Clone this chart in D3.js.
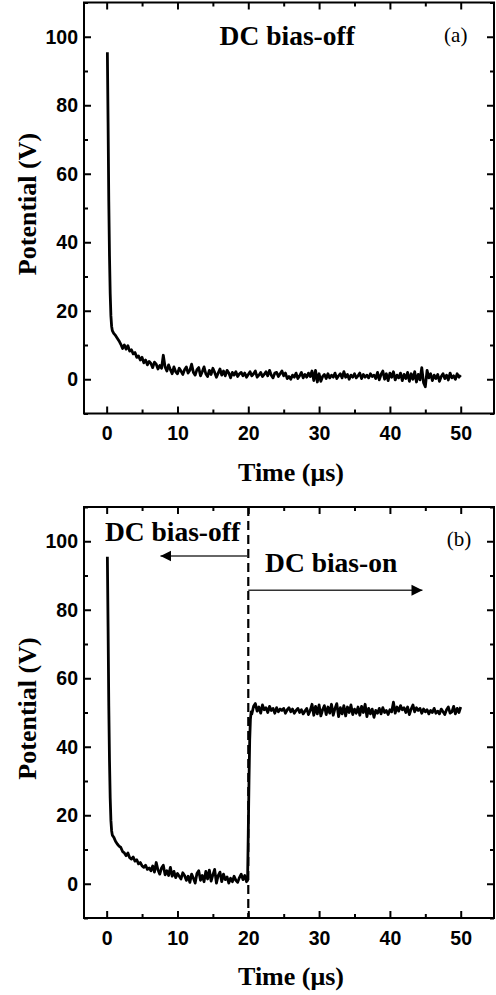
<!DOCTYPE html>
<html>
<head>
<meta charset="utf-8">
<script src="https://cdn.jsdelivr.net/npm/d3@7"></script>
<style>
  body { margin: 0; background: #fff; }
</style>
</head>
<body>
<div id="chart"></div>
<script>
// trace (a): bias off for the whole window
let timeA = [0.1, 0.2, 0.3, 0.4, 0.5, 0.6, 0.7, 0.8,
  1, 1.25, 1.5, 1.75, 2, 2.25, 2.5, 2.75, 3, 3.25, 3.5, 3.75, 4, 4.25, 4.5, 4.75,
  5, 5.25, 5.5, 5.75, 6, 6.25, 6.5, 6.75, 7, 7.25, 7.5, 7.75, 8, 8.25, 8.5, 8.75, 9, 9.25, 9.5, 9.75,
  10, 10.25, 10.5, 10.75, 11, 11.25, 11.5, 11.75, 12, 12.25, 12.5, 12.75, 13, 13.25, 13.5, 13.75, 14, 14.25, 14.5, 14.75,
  15, 15.25, 15.5, 15.75, 16, 16.25, 16.5, 16.75, 17, 17.25, 17.5, 17.75, 18, 18.25, 18.5, 18.75, 19, 19.25, 19.5, 19.75,
  20, 20.25, 20.5, 20.75, 21, 21.25, 21.5, 21.75, 22, 22.25, 22.5, 22.75, 23, 23.25, 23.5, 23.75, 24, 24.25, 24.5, 24.75,
  25, 25.25, 25.5, 25.75, 26, 26.25, 26.5, 26.75, 27, 27.25, 27.5, 27.75, 28, 28.25, 28.5, 28.75, 29, 29.25, 29.5, 29.75,
  30, 30.25, 30.5, 30.75, 31, 31.25, 31.5, 31.75, 32, 32.25, 32.5, 32.75, 33, 33.25, 33.5, 33.75, 34, 34.25, 34.5, 34.75,
  35, 35.25, 35.5, 35.75, 36, 36.25, 36.5, 36.75, 37, 37.25, 37.5, 37.75, 38, 38.25, 38.5, 38.75, 39, 39.25, 39.5, 39.75,
  40, 40.25, 40.5, 40.75, 41, 41.25, 41.5, 41.75, 42, 42.25, 42.5, 42.75, 43, 43.25, 43.5, 43.75, 44, 44.25, 44.5, 44.75,
  45, 45.25, 45.5, 45.75, 46, 46.25, 46.5, 46.75, 47, 47.25, 47.5, 47.75, 48, 48.25, 48.5, 48.75, 49, 49.25, 49.5, 49.75, 50];
let potentialA = [95.5, 75, 52, 36, 25, 18.5, 15.5, 14.2,
  13.4, 12.8, 12.0, 11.2, 10.2, 9.0, 10.0, 8.8, 9.8, 8.2, 8.6, 7.4, 7.8, 6.4, 6.8, 5.6,
  6.4, 4.8, 5.6, 4.2, 5.2, 4.6, 3.4, 5.0, 4.4, 3.0, 4.0, 3.2, 7.0, 3.6, 2.4, 4.2, 2.8, 1.6, 3.6, 2.2,
  1.6, 3.2, 2.4, 1.4, 2.8, 3.6, 1.8, 2.6, 4.4, 2.0, 1.2, 2.8, 3.4, 1.0, 2.2, 3.6, 1.6, 0.8, 2.6, 1.4,
  3.2, 2.0, 0.6, 1.8, 3.0, 1.2, 2.4, 1.0, 2.6, 1.8, 0.4, 2.0, 1.2, 2.2, 0.8, 1.6, 2.0, 1.0, 1.8, 0.6,
  1.4, 2.2, 1.0, 1.6, 2.4, 0.6, 1.2, 2.0, 0.8, 1.4, 2.2, 1.0, 2.6, 1.2, 0.4, 1.8, 2.0, 0.8, 1.6, 2.4,
  1.0, 1.8, 0.2, 0.8, 0.0, 1.2, 0.6, 1.8, 0.2, 1.0, 2.0, 0.4, 1.4, 0.6, 1.8, 0.8, 2.4, -0.4, 2.6, -0.8,
  1.6, -0.6, 0.8, 1.4, 0.2, 1.6, 0.4, 1.2, 0.6, 1.8, 0.2, 1.0, 1.6, 0.4, 2.2, 0.6, 1.4, 0.0, 1.2, 0.6,
  1.6, 0.4, 1.0, 1.8, 0.2, 1.4, 0.6, 1.2, 0.4, 1.6, 0.8, 1.2, 0.2, 2.0, -0.2, 1.4, 2.4, 0.0, 1.6, -0.4,
  1.8, 0.6, 2.2, -0.2, 1.2, 0.4, 1.8, -0.4, 1.4, 0.2, 2.0, -0.6, 1.6, 0.0, 2.2, -0.8, 1.4, -0.2, 3.4, -1.0,
  -2.2, 2.6, 0.4, 1.6, -0.4, 1.2, 0.2, 1.4, -0.6, 0.8, 1.6, 0.2, 1.2, -0.2, 1.8, 0.4, 1.0, 0.0, 1.6, 0.6, 1.2];

// trace (b): bias switched on at 20 us
let timeB = [0.1, 0.2, 0.3, 0.4, 0.5, 0.6, 0.7, 0.8,
  1, 1.25, 1.5, 1.75, 2, 2.25, 2.5, 2.75, 3, 3.25, 3.5, 3.75, 4, 4.25, 4.5, 4.75,
  5, 5.25, 5.5, 5.75, 6, 6.25, 6.5, 6.75, 7, 7.25, 7.5, 7.75, 8, 8.25, 8.5, 8.75, 9, 9.25, 9.5, 9.75,
  10, 10.25, 10.5, 10.75, 11, 11.25, 11.5, 11.75, 12, 12.25, 12.5, 12.75, 13, 13.25, 13.5, 13.75, 14, 14.25, 14.5, 14.75,
  15, 15.25, 15.5, 15.75, 16, 16.25, 16.5, 16.75, 17, 17.25, 17.5, 17.75, 18, 18.25, 18.5, 18.75, 19, 19.25, 19.5, 19.75, 19.9,
  20, 20.1, 20.2, 20.3, 20.4, 20.5, 20.75, 21, 21.25, 21.5, 21.75, 22, 22.25, 22.5, 22.75, 23, 23.25, 23.5, 23.75, 24, 24.25, 24.5, 24.75,
  25, 25.25, 25.5, 25.75, 26, 26.25, 26.5, 26.75, 27, 27.25, 27.5, 27.75, 28, 28.25, 28.5, 28.75, 29, 29.25, 29.5, 29.75,
  30, 30.25, 30.5, 30.75, 31, 31.25, 31.5, 31.75, 32, 32.25, 32.5, 32.75, 33, 33.25, 33.5, 33.75, 34, 34.25, 34.5, 34.75,
  35, 35.25, 35.5, 35.75, 36, 36.25, 36.5, 36.75, 37, 37.25, 37.5, 37.75, 38, 38.25, 38.5, 38.75, 39, 39.25, 39.5, 39.75,
  40, 40.25, 40.5, 40.75, 41, 41.25, 41.5, 41.75, 42, 42.25, 42.5, 42.75, 43, 43.25, 43.5, 43.75, 44, 44.25, 44.5, 44.75,
  45, 45.25, 45.5, 45.75, 46, 46.25, 46.5, 46.75, 47, 47.25, 47.5, 47.75, 48, 48.25, 48.5, 48.75, 49, 49.25, 49.5, 49.75, 50];
let potentialB = [95.5, 75, 52, 36, 25, 18.5, 15.5, 14.2,
  13.6, 12.4, 11.6, 11.0, 10.6, 9.4, 9.0, 8.2, 9.0, 7.6, 7.2, 7.8, 6.6, 7.0, 5.8, 6.2,
  5.2, 4.8, 5.4, 4.2, 4.6, 3.8, 5.2, 3.4, 6.2, 4.0, 2.8, 4.6, 5.4, 2.6, 3.8, 2.4, 4.8, 2.2, 3.6, 1.8,
  3.0, 2.2, 1.4, 3.2, 2.4, 1.0, 2.2, 0.4, 2.8, 1.6, 0.2, 3.0, 3.8, 1.0, 2.4, 0.6, 3.6, 1.4, 4.0, 0.8,
  2.6, 4.2, 0.2, 2.4, 3.4, 0.6, 2.8, 1.2, 2.0, 0.2, 1.6, 0.6, 2.2, 1.0, 0.4, 1.8, 2.8, 1.2, 2.4, 0.6, 1.0,
  15, 30, 42, 48, 50.2, 49.6, 51.8, 52.6, 50.4, 51.6, 49.8, 52.2, 50.8, 51.4, 50.0, 51.8, 50.6, 51.2, 49.8, 51.4, 50.2, 51.0, 50.6,
  51.2, 49.8, 50.8, 51.4, 50.2, 51.0, 49.8, 50.6, 51.2, 50.0, 50.8, 49.6, 50.4, 51.2, 49.4, 50.6, 52.4, 49.2, 51.8, 49.6,
  52.2, 49.0, 50.8, 52.0, 49.4, 51.6, 49.8, 52.4, 49.2, 51.2, 52.6, 48.8, 51.4, 49.6, 52.0, 49.0, 51.6, 50.0, 52.2, 49.4,
  51.0, 49.8, 51.6, 49.2, 51.8, 50.0, 52.4, 48.8, 51.2, 49.6, 51.0, 48.6, 50.6, 49.8, 51.2, 49.6, 51.4, 50.0, 50.6, 49.4,
  50.8, 50.2, 53.0, 49.8, 51.6, 50.4, 52.0, 50.8, 51.4, 50.0, 51.6, 49.4, 51.0, 52.2, 50.2, 51.4, 50.6, 51.2, 49.8, 51.0,
  50.2, 50.8, 49.6, 50.6, 50.0, 51.2, 49.8, 50.4, 49.6, 51.0, 50.2, 49.4, 50.8, 51.6, 49.8, 50.2, 51.8, 49.6, 51.2, 50.0, 51.6];

let xTicks = [0, 10, 20, 30, 40, 50];
let xMinor = [5, 15, 25, 35, 45];
let yTicks = [0, 20, 40, 60, 80, 100];
let yMinor = [-10, 10, 30, 50, 70, 90, 110];

let width = 496,
    height = 995,
    plotW = 410,
    plotH = 411,
    left = 84;

let svg = d3.select("#chart")
  .append("svg")
    .attr("width", width)
    .attr("height", height);

let x = d3.scaleLinear().domain([-3.2, 54.7]).range([0, plotW]);
let y = d3.scaleLinear().domain([-10, 110]).range([plotH, 0]);

let line = d3.line()
  .x(d => x(d[0]))
  .y(d => y(d[1]));

function panel(top, times, values) {
  let g = svg.append("g").attr("transform", `translate(${left},${top})`);

  // minor ticks first, then the major ones with labels
  g.append("g").attr("transform", `translate(0,${plotH})`)
    .call(d3.axisBottom(x).tickValues(xMinor).tickSize(-4).tickFormat(""));
  g.append("g")
    .call(d3.axisTop(x).tickValues(xMinor).tickSize(-4).tickFormat(""));
  g.append("g")
    .call(d3.axisLeft(y).tickValues(yMinor).tickSize(-4).tickFormat(""));
  g.append("g").attr("transform", `translate(${plotW},0)`)
    .call(d3.axisRight(y).tickValues(yMinor).tickSize(-4).tickFormat(""));

  g.append("g").attr("class", "lab").attr("transform", `translate(0,${plotH})`)
    .call(d3.axisBottom(x).tickValues(xTicks).tickSize(-7).tickPadding(13));
  g.append("g")
    .call(d3.axisTop(x).tickValues(xTicks).tickSize(-7).tickFormat(""));
  g.append("g").attr("class", "lab")
    .call(d3.axisLeft(y).tickValues(yTicks).tickSize(-7).tickPadding(6));
  g.append("g").attr("transform", `translate(${plotW},0)`)
    .call(d3.axisRight(y).tickValues(yTicks).tickSize(-7).tickFormat(""));

  g.selectAll(".domain").remove();
  g.selectAll(".tick line").attr("stroke", "#000").attr("stroke-width", 2);
  g.selectAll(".lab text")
    .style("font-family", "'Liberation Sans', Arial, sans-serif")
    .style("font-weight", "bold")
    .style("font-size", "19.5px")
    .attr("fill", "#000");

  g.append("rect")
    .attr("width", plotW)
    .attr("height", plotH)
    .attr("fill", "none")
    .attr("stroke", "#000")
    .attr("stroke-width", 2);

  g.append("path")
    .datum(d3.zip(times, values))
    .attr("d", line)
    .attr("fill", "none")
    .attr("stroke", "#000")
    .attr("stroke-width", 2.8)
    .attr("stroke-linejoin", "round");

  g.append("text")
    .attr("transform", `translate(${35.5 - left},${plotH / 2 - 4}) rotate(-90)`)
    .attr("text-anchor", "middle")
    .style("font-family", "'Liberation Serif', 'Times New Roman', serif")
    .style("font-weight", "bold")
    .style("font-size", "26px")
    .text("Potential (V)");

  g.append("text")
    .attr("x", plotW / 2 + 2)
    .attr("y", plotH + 67)
    .attr("text-anchor", "middle")
    .style("font-family", "'Liberation Serif', 'Times New Roman', serif")
    .style("font-weight", "bold")
    .style("font-size", "26px")
    .text("Time (\u03bcs)");

  return g;
}

function label(g, t, v, txt, size, bold) {
  g.append("text")
    .attr("x", x(t))
    .attr("y", y(v))
    .attr("text-anchor", "middle")
    .style("font-family", "'Liberation Serif', 'Times New Roman', serif")
    .style("font-weight", bold ? "bold" : "normal")
    .style("font-size", size + "px")
    .text(txt);
}

let gA = panel(2.5, timeA, potentialA);
label(gA, 25.5, 97.7, "DC bias-off", 27.5, true);
label(gA, 49.3, 98.4, "(a)", 21, false);

let gB = panel(507, timeB, potentialB);

// switch instant
gB.append("line")
  .attr("x1", x(20)).attr("x2", x(20))
  .attr("y1", y(110)).attr("y2", y(-10))
  .attr("stroke", "#000")
  .attr("stroke-width", 2.2)
  .attr("stroke-dasharray", "9,5");

let arrows = [
  {from: 20, to: 7.6, v: 95.7},
  {from: 20, to: 44.6, v: 85.7}
];

svg.append("defs").append("marker")
  .attr("id", "head")
  .attr("viewBox", "0 0 10 10")
  .attr("refX", 10)
  .attr("refY", 5)
  .attr("markerWidth", 11)
  .attr("markerHeight", 12)
  .attr("markerUnits", "userSpaceOnUse")
  .attr("orient", "auto")
  .append("path")
    .attr("d", "M0,0L10,5L0,10Z")
    .attr("fill", "#000");

gB.selectAll(".arrow")
  .data(arrows)
  .enter()
  .append("line")
    .attr("class", "arrow")
    .attr("x1", d => x(d.from))
    .attr("x2", d => x(d.to))
    .attr("y1", d => y(d.v))
    .attr("y2", d => y(d.v))
    .attr("stroke", "#333")
    .attr("stroke-width", 1.5)
    .attr("marker-end", "url(#head)");

label(gB, 9.3, 100.1, "DC bias-off", 27.5, true);
label(gB, 31.7, 91, "DC bias-on", 27.5, true);
label(gB, 49.75, 98.6, "(b)", 21, false);
</script>
</body>
</html>
